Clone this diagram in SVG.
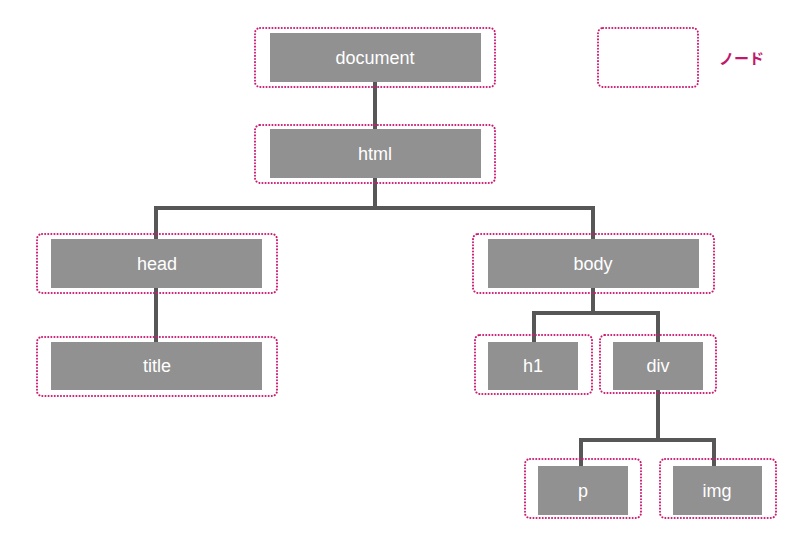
<svg xmlns="http://www.w3.org/2000/svg" width="800" height="539" viewBox="0 0 800 539">
<style>
.frame{fill:none;stroke:#cc1a72;stroke-width:2;stroke-dasharray:0.1 3;stroke-linecap:round}
.box{fill:#919191}
.lbl{fill:#ffffff;font-family:"Liberation Sans",Arial,sans-serif;font-size:18px;text-anchor:middle;dominant-baseline:central}
.conn{fill:none;stroke:#575757;stroke-width:4;stroke-linejoin:miter}
</style>
<rect width="800" height="539" fill="#ffffff"/>
<g id="connectors">
<path class="conn" d="M375,82 V129"/>
<path class="conn" d="M375,178 V208 M156,239 V208 H593 V239"/>
<path class="conn" d="M156,288 V342"/>
<path class="conn" d="M593,288 V313 M534,342 V313 H658 V342"/>
<path class="conn" d="M658,390 V440 M581,467 V440 H714 V467"/>
</g>
<g id="node-document">
<rect class="frame" x="255" y="28" width="240" height="59" rx="5"/>
<rect class="box" x="270" y="33" width="211" height="49"/>
<text class="lbl" x="375" y="58">document</text>
</g>
<g id="node-html">
<rect class="frame" x="255" y="125" width="240" height="58" rx="5"/>
<rect class="box" x="270" y="129" width="211" height="49"/>
<text class="lbl" x="375" y="154">html</text>
</g>
<g id="node-head">
<rect class="frame" x="37" y="234" width="240" height="59" rx="5"/>
<rect class="box" x="51" y="239" width="211" height="49"/>
<text class="lbl" x="157" y="264">head</text>
</g>
<g id="node-title">
<rect class="frame" x="37" y="337" width="240" height="59" rx="5"/>
<rect class="box" x="51" y="342" width="211" height="48"/>
<text class="lbl" x="157" y="366">title</text>
</g>
<g id="node-body">
<rect class="frame" x="473" y="234" width="241" height="59" rx="5"/>
<rect class="box" x="488" y="239" width="211" height="49"/>
<text class="lbl" x="593" y="264">body</text>
</g>
<g id="node-h1">
<rect class="frame" x="475" y="335" width="117" height="59" rx="5"/>
<rect class="box" x="488" y="342" width="90" height="48"/>
<text class="lbl" x="533" y="366">h1</text>
</g>
<g id="node-div">
<rect class="frame" x="600" y="335" width="116" height="58" rx="5"/>
<rect class="box" x="613" y="342" width="90" height="48"/>
<text class="lbl" x="658" y="366">div</text>
</g>
<g id="node-p">
<rect class="frame" x="525" y="459" width="116" height="59" rx="5"/>
<rect class="box" x="538" y="466" width="90" height="49"/>
<text class="lbl" x="583" y="491">p</text>
</g>
<g id="node-img">
<rect class="frame" x="660" y="459" width="116" height="59" rx="5"/>
<rect class="box" x="673" y="466" width="89" height="49"/>
<text class="lbl" x="717" y="491">img</text>
</g>
<g id="legend">
<rect class="frame" x="598" y="28" width="100" height="59" rx="5"/>
<text x="719" y="57" fill="#c0186b" font-family="'Noto Sans CJK JP',sans-serif" font-size="15" font-weight="bold" dominant-baseline="central">ノード</text>
</g>
</svg>
